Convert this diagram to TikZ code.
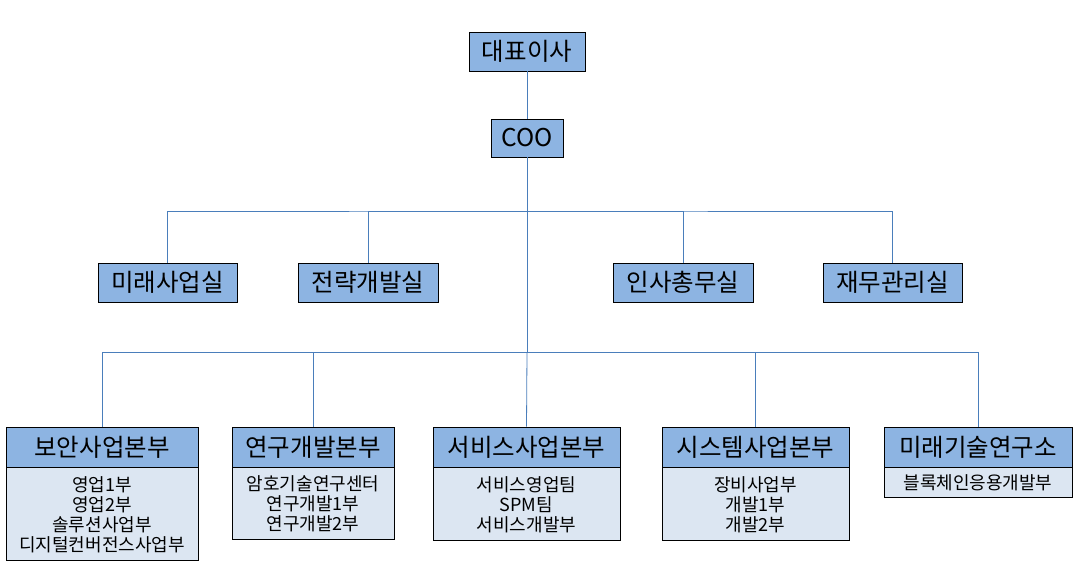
\documentclass[tikz,border=0pt]{standalone}
\usepackage{fontspec}
\setmainfont{Noto Sans CJK KR}
\definecolor{hdrfill}{RGB}{141,180,226}
\definecolor{bodyfill}{RGB}{220,230,242}
\definecolor{connc}{RGB}{74,126,187}
\begin{document}
\begin{tikzpicture}[x=1pt,y=-1pt,
  box/.style={draw=black,line width=0.9pt,fill=hdrfill,inner sep=0pt,
    font=\fontsize{24.5}{28}\selectfont},
  body/.style={draw=black,line width=0.9pt,fill=bodyfill,inner sep=0pt,align=center,
    font=\fontsize{18}{20}\selectfont},
  conn/.style={draw=connc,line width=0.8pt}]
\useasboundingbox (0,0) rectangle (1078,575);
% top
\node[box,minimum width=116pt,minimum height=39pt] (ceo) at (527,51.5) {대표이사};
\node[box,minimum width=72pt,minimum height=38pt] (coo) at (527,138) {COO};
% second row
\node[box,minimum width=139pt,minimum height=39pt] (m1) at (167.5,282.5) {미래사업실};
\node[box,minimum width=140pt,minimum height=39pt] (m2) at (368,282.5) {전략개발실};
\node[box,minimum width=140pt,minimum height=39pt] (m3) at (683,282.5) {인사총무실};
\node[box,minimum width=139pt,minimum height=39pt] (m4) at (892.5,282.5) {재무관리실};
% bottom headers
\node[box,minimum width=192pt,minimum height=40pt] (b1) at (102,447) {보안사업본부};
\node[box,minimum width=162pt,minimum height=40pt] (b2) at (313,447) {연구개발본부};
\node[box,minimum width=187pt,minimum height=40pt] (b3) at (526.5,447) {서비스사업본부};
\node[box,minimum width=187pt,minimum height=40pt] (b4) at (755.5,447) {시스템사업본부};
\node[box,minimum width=188pt,minimum height=40pt] (b5) at (978,447) {미래기술연구소};
% bottom bodies
\node[body,anchor=north,minimum width=192pt,minimum height=93pt] (d1) at (b1.south) {영업1부\\영업2부\\솔루션사업부\\디지털컨버전스사업부};
\node[body,anchor=north,minimum width=162pt,minimum height=72pt] (d2) at (b2.south) {암호기술연구센터\\연구개발1부\\연구개발2부};
\node[body,anchor=north,minimum width=187pt,minimum height=73pt] (d3) at (b3.south) {서비스영업팀\\SPM팀\\서비스개발부};
\node[body,anchor=north,minimum width=187pt,minimum height=73pt] (d4) at (b4.south) {장비사업부\\개발1부\\개발2부};
\node[body,anchor=north,minimum width=188pt,minimum height=30pt] (d5) at (b5.south) {블록체인응용개발부};
% junctions
\coordinate (jA) at (527,211);
\coordinate (jB) at (527,352);
% connectors
\draw[conn] (ceo.south) -- (coo.north);
\draw[conn] (coo.south) -- (jB);
\draw[conn] (m1.north) |- (jA) -| (m4.north);
\draw[conn] (m2.north) |- (jA);
\draw[conn] (m3.north) |- (jA);
\draw[conn] (b1.north) |- (jB) -| (b5.north);
\draw[conn] (b2.north) |- (jB);
\draw[conn] (b3.north) -- (jB);
\draw[conn] (b4.north) |- (jB);
\end{tikzpicture}
\end{document}
